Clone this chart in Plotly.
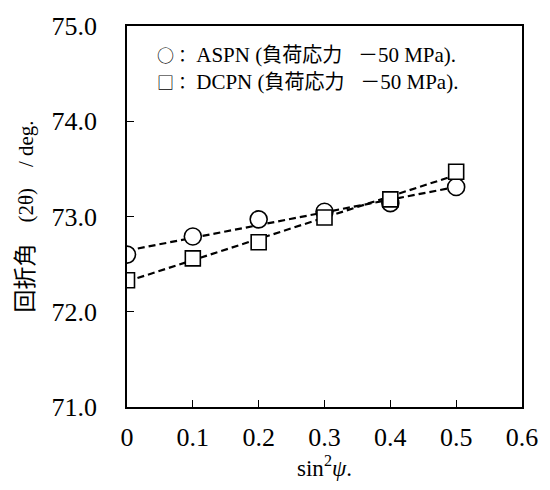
import numpy as np
import plotly.graph_objects as go

sin2psi = [0.0, 0.1, 0.2, 0.3, 0.4, 0.5]
aspn = [72.60, 72.79, 72.97, 73.05, 73.14, 73.31]
dcpn = [72.33, 72.56, 72.73, 72.99, 73.18, 73.47]
legend_names = ["ASPN", "DCPN"]
legend_symbols = ["○", "□"]
legend_note = "負荷応力"
legend_load = "－"
legend_value = "50 MPa"
x_ticks = [0, 0.1, 0.2, 0.3, 0.4, 0.5, 0.6]
x_ticktext = ["0", "0.1", "0.2", "0.3", "0.4", "0.5", "0.6"]
y_ticks = [71, 72, 73, 74, 75]
y_ticktext = ["71.0", "72.0", "73.0", "74.0", "75.0"]

SERIF = "Liberation Serif, Noto Sans CJK JP, serif"
TSERIF = "Liberation Serif"
CJK = "Noto Sans CJK JP"
NB = "\u00a0"


def cjk(t, size):
    return f"<span style='font-family:{CJK};font-size:{size}px'>{t}</span>"


fig = go.Figure()
xs = np.array(sin2psi)
for ys in (aspn, dcpn):
    k, b = np.polyfit(xs, np.array(ys), 1)
    xl = [float(xs.min()), float(xs.max())]
    fig.add_trace(go.Scatter(x=xl, y=[k * v + b for v in xl], mode="lines",
                             line=dict(color="black", width=2.2, dash="7px,4px"),
                             showlegend=False, hoverinfo="skip"))
for ys, sym, sz in [(aspn, "circle", 17), (dcpn, "square", 15)]:
    fig.add_trace(go.Scatter(x=sin2psi, y=ys, mode="markers",
                             marker=dict(symbol=sym, size=sz, color="white",
                                         line=dict(color="black", width=1.6)),
                             showlegend=False))

rows = []
for s, name in zip(legend_symbols, legend_names):
    rows.append(cjk(s, 17) + cjk("：", 17) + NB + name + NB + "(" + cjk(legend_note, 20)
                + NB * 3 + cjk(legend_load, 20) + legend_value.replace(" ", NB) + ").")
fig.add_annotation(
    x=0.072, y=0.893, xref="paper", yref="paper",
    xanchor="left", yanchor="middle", showarrow=False, align="left",
    text="<br>".join(rows), font=dict(family=SERIF, size=21, color="black"))

ytitle = cjk("回折角", 23) + NB * 4 + "(2θ)" + NB * 4 + "/ deg."

fig.update_layout(
    width=550, height=490,
    margin=dict(l=127, r=20, t=19, b=83),
    paper_bgcolor="white", plot_bgcolor="white",
    font=dict(family=SERIF, color="black"),
    xaxis=dict(range=[0, 0.6], tickvals=x_ticks, ticktext=x_ticktext,
               ticks="inside", ticklen=7, tickwidth=1, tickcolor="black",
               showline=True, linecolor="black", linewidth=1.5, mirror=True,
               showgrid=False, zeroline=False,
               tickfont=dict(family=TSERIF, size=26), ticklabelstandoff=6,
               title=dict(text="sin<sup>2</sup><i>ψ</i>.", font=dict(family=TSERIF, size=23),
                          standoff=6)),
    yaxis=dict(range=[71, 75], tickvals=y_ticks, ticktext=y_ticktext,
               ticks="inside", ticklen=7, tickwidth=1, tickcolor="black",
               showline=True, linecolor="black", linewidth=1.5, mirror=True,
               showgrid=False, zeroline=False,
               tickfont=dict(family=TSERIF, size=26), ticklabelstandoff=23,
               title=dict(text=ytitle, font=dict(family=SERIF, size=21), standoff=12)),
)

fig.write_html("out.html")
